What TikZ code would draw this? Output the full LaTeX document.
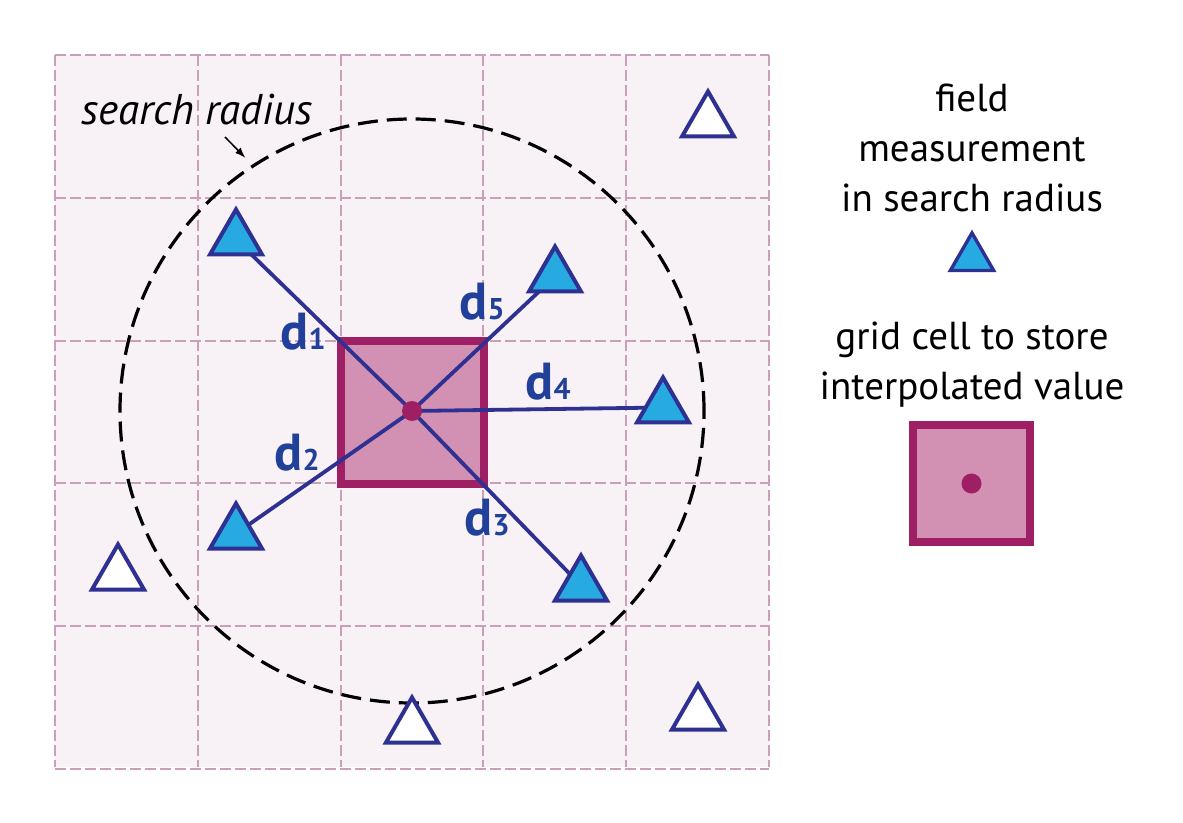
\documentclass[tikz,border=0pt]{standalone}
\usepackage{fontspec}
\setmainfont{PT Sans}
\usetikzlibrary{shapes.geometric}
\definecolor{gridfill}{RGB}{248,241,246}
\definecolor{gridcol}{RGB}{201,160,186}
\definecolor{cellfill}{RGB}{210,145,179}
\definecolor{cellcol}{RGB}{158,31,99}
\definecolor{trifill}{RGB}{39,170,225}
\definecolor{tricol}{RGB}{46,49,146}
\definecolor{dcol}{RGB}{33,64,154}
\pgfdeclarelayer{base}
\pgfdeclarelayer{links}
\pgfsetlayers{base,links,main}
\newcommand{\dtext}[1]{d{\fontsize{15}{15}\selectfont#1}}

\begin{document}
\begin{tikzpicture}[x=0.5pt,y=-0.5pt,
  meas/.style={regular polygon,regular polygon sides=3,minimum size=30pt,inner sep=0pt,outer sep=0pt,draw=tricol,line width=2pt,fill=trifill},
  other/.style={meas,fill=white},
  gridcell/.style={rectangle,minimum size=71.4pt,inner sep=0pt,draw=cellcol,line width=4pt,fill=cellfill},
  celldot/.style={circle,minimum size=10pt,inner sep=0pt,fill=cellcol},
  searchcircle/.style={circle,minimum size=292pt,inner sep=0pt,draw,line width=1.6pt,dash pattern=on 10pt off 4.5pt},
  gridline/.style={draw=gridcol,line width=1pt,dash pattern=on 5.5pt off 2pt},
  dist/.style={draw=tricol,line width=1.9pt},
  dlabel/.style={anchor=base,text=dcol,font=\fontsize{26}{26}\selectfont\bfseries},
  legend/.style={anchor=base,align=center,font=\fontsize{19.5}{25}\selectfont}]
  \useasboundingbox (0,0) rectangle (1183,823);
  % GRID
  \begin{pgfonlayer}{base}
    \fill[gridfill] (55,55) rectangle (769,767);
    \foreach \k in {0,...,5} {
      \draw[gridline] (55+142.8*\k,55) -- (55+142.8*\k,767);
      \draw[gridline] (55,55+142.8*\k) -- (769,55+142.8*\k);
    }
    \node[searchcircle] (radius) at (412,411) {};
    \node[gridcell] (cell) at (412.5,412.5) {};
  \end{pgfonlayer}
  % NODES
  \node[celldot] (dot) at (412,411) {};
  \node[meas] (t1) at (236,239.5) {};
  \node[meas] (t2) at (236,533.5) {};
  \node[meas] (t3) at (581,585.5) {};
  \node[meas] (t4) at (663,407.5) {};
  \node[meas] (t5) at (555,276.5) {};
  \node[other] (o1) at (708,121.5) {};
  \node[other] (o2) at (118,574.5) {};
  \node[other] (o3) at (412,727.5) {};
  \node[other] (o4) at (698,714.5) {};
  % PATHS
  \begin{pgfonlayer}{links}
    \path[dist] (dot.center) -- (t1.center)
      (dot.center) -- (t2.center)
      (dot.center) -- (t3.center)
      (dot.center) -- (t4.center)
      (dot.center) -- (t5.center);
  \end{pgfonlayer}
  % LABELS
  \node[dlabel] (d1lab) at (303,350) {\dtext{1}};
  \node[dlabel] (d2lab) at (297,470) {\dtext{2}};
  \node[dlabel] (d3lab) at (487,535) {\dtext{3}};
  \node[dlabel] (d4lab) at (548,400) {\dtext{4}};
  \node[dlabel] (d5lab) at (482,320) {\dtext{5}};
  \node[legend,font=\fontsize{21.5}{25}\selectfont\itshape] (srlab) at (197,125) {search radius};
  \coordinate (srfrom) at (225,137);
  \draw[-latex,line width=0.75pt,shorten >=5pt] (srfrom) -- (radius.123);
  % LEGEND
  \node[legend] (fieldtxt) at (972,212) {field\\measurement\\in search radius};
  \node[meas,minimum size=25pt,line width=1.7pt] (legtri) at (972,258) {};
  \node[legend] (celltxt) at (972,400) {grid cell to store\\interpolated value};
  \node[gridcell,minimum size=58.5pt] (legcell) at (971.5,483.5) {};
  \node[celldot] (legdot) at (legcell.center) {};
\end{tikzpicture}
\end{document}
